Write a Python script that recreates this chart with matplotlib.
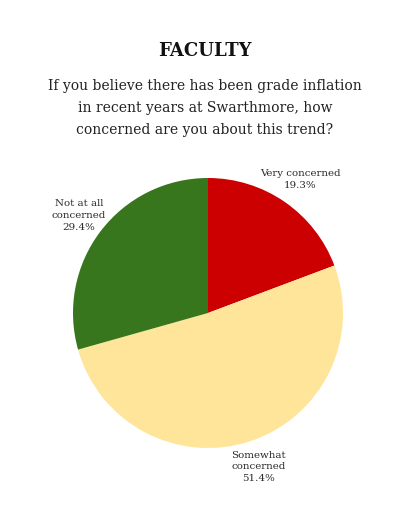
import numpy as np
import matplotlib
matplotlib.use('Agg')
import matplotlib.pyplot as plt

# survey answers, clockwise from 12 o'clock
labels = ['Very concerned', 'Somewhat\nconcerned', 'Not at all\nconcerned']
shares = [19.3, 51.4, 29.4]
colors = ['#cc0000', '#ffe599', '#38761d']

title = 'FACULTY'
question = ('If you believe there has been grade inflation\n'
            'in recent years at Swarthmore, how\n'
            'concerned are you about this trend?')

W, H = 410, 512
cx, cy, r = 208, 313, 135   # pie centre / radius in pixels

fig = plt.figure(figsize=(W / 100, H / 100), dpi=100)
ax = fig.add_axes([0, 0, 1, 1])

wedges, _ = ax.pie(shares, colors=colors, startangle=90, counterclock=False,
                   radius=1, wedgeprops=dict(linewidth=0))
ax.set_xlim(-cx / r, (W - cx) / r)
ax.set_ylim((cy - H) / r, cy / r)
ax.set_aspect('equal')
ax.axis('off')

fam = ['DejaVu Serif']
for w, lab, s in zip(wedges, labels, shares):
    mid = np.deg2rad((w.theta1 + w.theta2) / 2)
    d = 1.2
    ax.text(d * np.cos(mid), d * np.sin(mid), f'{lab}\n{s:.1f}%',
            ha='center', va='center', fontsize=7.4, family=fam,
            color='#2a2a2a', linespacing=1.4)

fig.text(0.5, 1 - 51 / H, title, ha='center', va='center', fontsize=13,
         fontweight='bold', family=fam, color='#111111')
fig.text(0.5, 1 - 108 / H, question, ha='center', va='center', fontsize=10,
         family=fam, color='#222222', linespacing=1.7)

fig.savefig('out.png', dpi=100)
